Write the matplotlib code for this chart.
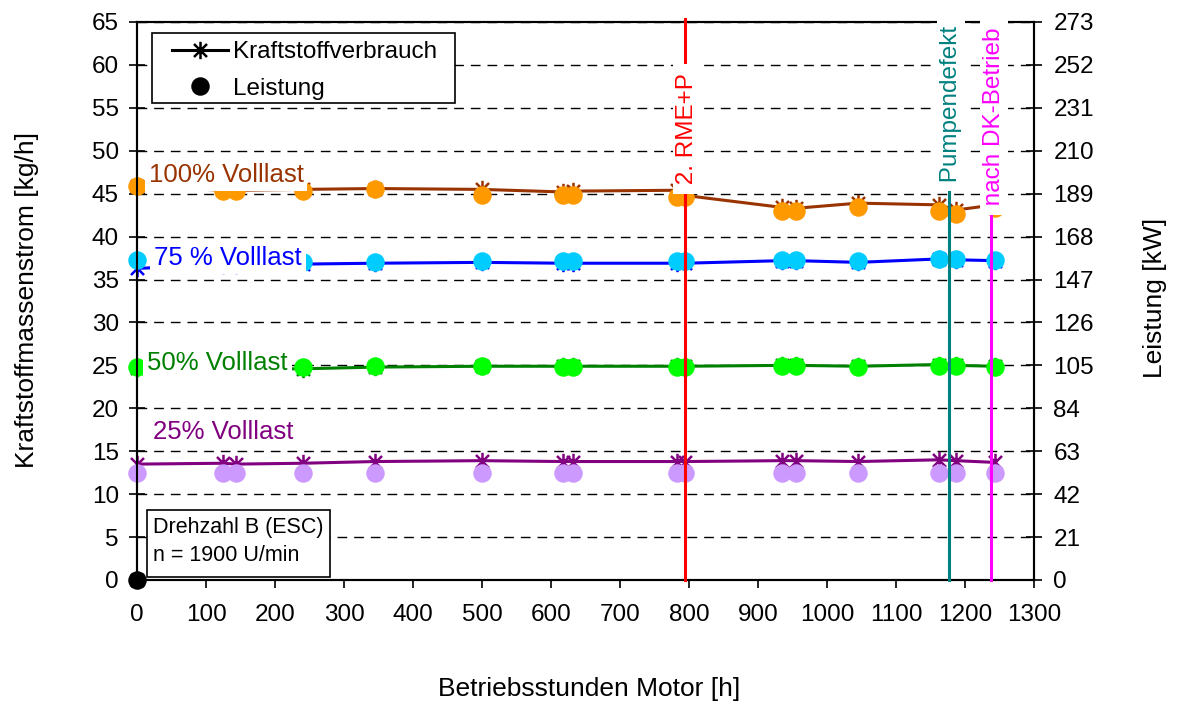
import matplotlib
matplotlib.use("Agg")
import matplotlib.pyplot as plt
from matplotlib.path import Path
from matplotlib.lines import Line2D
from matplotlib.patches import Rectangle

plt.rcParams['font.family'] = ['Liberation Sans', 'DejaVu Sans']

# ---------------- data ----------------
hours = [0, 125, 143, 240, 345, 500, 618, 632, 783, 794, 935, 955, 1045, 1162, 1187, 1243]

# fuel mass flow [kg/h] (left axis, star markers + line)
fuel_100 = [45.9, 45.4, 45.4, 45.5, 45.6, 45.5, 45.2, 45.3, 45.4, 44.8, 43.4, 43.3, 43.9, 43.7, 43.1, 43.7]
fuel_75 = [36.3, 36.7, 36.7, 36.8, 36.9, 37.0, 36.9, 36.9, 36.9, 36.9, 37.2, 37.2, 37.0, 37.4, 37.3, 37.2]
fuel_50 = [24.7, 24.6, 24.6, 24.6, 24.8, 24.9, 24.9, 24.9, 24.9, 24.9, 25.0, 25.0, 24.9, 25.1, 25.0, 24.9]
fuel_25 = [13.5, 13.6, 13.5, 13.6, 13.8, 13.9, 13.8, 13.8, 13.8, 13.8, 13.9, 13.9, 13.8, 14.0, 13.9, 13.7]

# power [kW] (right axis, dots)
power_100 = [192.8, 190.3, 190.3, 190.3, 191.1, 188.6, 188.6, 188.6, 187.3, 187.3, 180.6, 180.6, 182.7, 180.6, 179.3, 182.2]
power_75 = [156.7, 156.2, 156.2, 155.8, 155.8, 156.2, 156.2, 156.2, 156.2, 156.2, 156.7, 156.7, 156.2, 157.1, 157.1, 156.7]
power_50 = [104.2, 104.2, 104.2, 104.2, 104.6, 104.6, 104.2, 104.2, 104.2, 104.2, 104.6, 104.6, 104.2, 104.6, 104.6, 104.2]
power_25 = [52.3, 52.3, 52.3, 52.3, 52.3, 52.3, 52.3, 52.3, 52.3, 52.3, 52.3, 52.3, 52.3, 52.3, 52.3, 52.3]

series_labels = ["100% Volllast", "75 % Volllast", "50% Volllast", "25% Volllast"]
line_colors = ["#993300", "#0000FF", "#008000", "#800080"]
dot_colors = ["#FF9900", "#00CCFF", "#00FF00", "#CC99FF"]

event_hours = [794, 1177, 1238]
event_labels = ["2. RME+P", "Pumpendefekt", "nach DK-Betrieb"]
event_colors = ["#FF0000", "#008080", "#FF00FF"]

x_ticks = list(range(0, 1301, 100))
y_ticks = list(range(0, 66, 5))
y2_ticks = list(range(0, 274, 21))

# ---------------- figure ----------------
W, H = 1177, 704
fig = plt.figure(figsize=(W / 100, H / 100), dpi=100)
ax = fig.add_axes([137 / W, 1 - 580 / H, 897 / W, 558 / H])
ax2 = ax.twinx()

star = Path([(0, -1), (0, 1), (-0.75, -0.75), (0.75, 0.75), (-0.75, 0.75), (0.75, -0.75)],
            [Path.MOVETO, Path.LINETO] * 3)

fuels = [fuel_100, fuel_75, fuel_50, fuel_25]
powers = [power_100, power_75, power_50, power_25]

for f, lc in zip(fuels, line_colors):
    ax.plot(hours, f, color=lc, lw=2.2, marker=star, ms=12.5, mew=1.8, mec=lc, zorder=3, clip_on=False)
ax.plot([0], [0], color='black', marker=star, ms=12.5, mew=1.8, zorder=3, clip_on=False)

for p, dc in zip(powers, dot_colors):
    ax2.plot(hours, p, ls='none', marker='o', ms=12.3, color=dc, mec=dc, zorder=2, clip_on=False)
ax2.plot([0], [0], ls='none', marker='o', ms=12.3, color='black', zorder=2, clip_on=False)

ax.set_xlim(0, 1300)
ax.set_ylim(0, 65)
ax2.set_ylim(0, 273)
ax.set_xticks(x_ticks)
ax.set_yticks(y_ticks)
ax2.set_yticks(y2_ticks)

ax.yaxis.grid(True, color='black', lw=1.0, linestyle=(0, (7, 5)))
ax.set_axisbelow(True)

for a in (ax, ax2):
    for s in a.spines.values():
        s.set_linewidth(1.5)
        s.set_color('black')

ax.tick_params(axis='y', direction='inout', length=12, width=1.2, labelsize=17.5, pad=7)
ax.tick_params(axis='x', direction='out', length=6, width=1.2, labelsize=17.5, pad=11)
ax2.tick_params(axis='y', direction='inout', length=12, width=1.2, labelsize=17.5, pad=8)

# axis labels
fig.text(589 / W, 1 - 689 / H, "Betriebsstunden Motor [h]", fontsize=19, ha='center', va='center')
fig.text(27 / W, 1 - 300 / H, "Kraftstoffmassenstrom [kg/h]", fontsize=19, ha='center', va='center', rotation=90)
fig.text(1155 / W, 1 - 298 / H, "Leistung [kW]", fontsize=19, ha='center', va='center', rotation=90)

# event lines
tops = [65.3, 45.3, 42.6]
for xh, col, top in zip(event_hours, event_colors, tops):
    ax2.axvline(xh, ymin=0, ymax=top / 65, color=col, lw=2.2, zorder=4, clip_on=False)

# event texts (positions in left-axis data units)
ev_text_pos = [(797, 45.3), (1180, 45.6), (1242, 42.9)]
for (tx, ty), lab, col in zip(ev_text_pos, event_labels, event_colors):
    ax2.text(tx, ty, " " + lab + " ", transform=ax.transData, rotation=90, ha='center', va='bottom',
             fontsize=17.5, color=col, zorder=6,
             bbox=dict(boxstyle='square,pad=0.12', fc='white', ec='none'))

# series labels
lab_pos = [(17, 47.2), (25, 37.5), (15, 25.3), (23, 17.2)]
for (tx, ty), lab, col in zip(lab_pos, series_labels, line_colors):
    ax2.text(tx, ty, lab, transform=ax.transData, ha='left', va='center', fontsize=18.5, color=col,
             zorder=6, bbox=dict(boxstyle='square,pad=0.15', fc='white', ec='none'))

# legend: frame drawn as rectangle, entries by legend
ax2.add_patch(Rectangle((152 / W, 1 - 103 / H), 303 / W, 70 / H, transform=fig.transFigure,
                        fc='white', ec='black', lw=1.2, zorder=6.5, clip_on=False))
handles = [Line2D([], [], color='black', lw=2.2, marker=star, ms=12.5, mew=1.8),
           Line2D([], [], color='black', ls='none', marker='o', ms=12.3)]
leg = ax2.legend(handles, ["Kraftstoffverbrauch", "Leistung"], loc='upper left',
                 bbox_to_anchor=(172 / W, 1 - 41 / H), bbox_transform=fig.transFigure,
                 fontsize=17.5, frameon=False, handlelength=2.3, handletextpad=0.2,
                 borderpad=0, labelspacing=0.6, borderaxespad=0)
leg.set_zorder(7)

# info box
fig.patches.append(Rectangle((147 / W, 1 - 577 / H), 183 / W, 67 / H, transform=fig.transFigure,
                             fc='white', ec='black', lw=1.2, zorder=8))
fig.text(153 / W, 1 - 533 / H, "Drehzahl B (ESC)", fontsize=15.5, ha='left', va='baseline', zorder=9)
fig.text(153 / W, 1 - 561 / H, "n = 1900 U/min", fontsize=15.5, ha='left', va='baseline', zorder=9)

fig.savefig("out.png", dpi=100)
